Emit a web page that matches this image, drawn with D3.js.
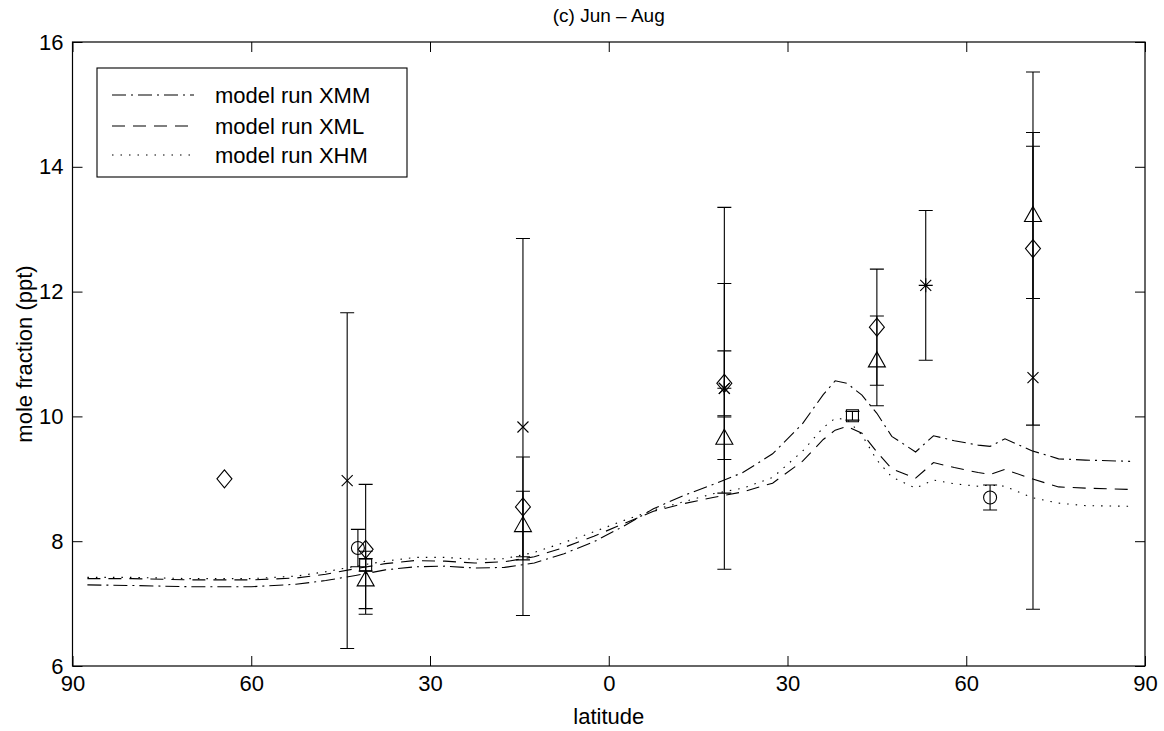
<!DOCTYPE html>
<html><head><meta charset="utf-8">
<script src="https://cdn.jsdelivr.net/npm/d3@7"></script>
<style>
body{margin:0;background:#fff}
text{font-family:"Liberation Sans",Arial,Helvetica,sans-serif;fill:#000}
</style>
</head><body>
<svg id="chart" width="1164" height="731"></svg>
<script>
// ---- data ----
const titleText = "(c) Jun \u2013 Aug";
const xTicks = [-90, -60, -30, 0, 30, 60, 90];
const xTickLabels = ["90", "60", "30", "0", "30", "60", "90"];
const yTicks = [6, 8, 10, 12, 14, 16];

const modelLat = [-87.5, -80, -70, -60, -52.5, -47.5, -42.5, -37.5, -32.5, -27.5, -22.5, -17.5, -12.5, -7.5, -2.5, 2.5, 7.5, 12.5, 17.5, 22.5, 27.5, 32.5, 36, 38, 40, 42.5, 45, 47.5, 51.5, 54.5, 58, 62, 64, 66.5, 71, 75.5, 80, 87.5];
const runXMM = [7.30, 7.29, 7.27, 7.27, 7.31, 7.37, 7.45, 7.54, 7.59, 7.60, 7.57, 7.58, 7.65, 7.80, 7.99, 8.24, 8.52, 8.73, 8.91, 9.10, 9.40, 9.88, 10.35, 10.57, 10.53, 10.34, 10.05, 9.68, 9.43, 9.69, 9.61, 9.54, 9.52, 9.64, 9.45, 9.32, 9.30, 9.28];
const runXML = [7.40, 7.40, 7.38, 7.38, 7.41, 7.47, 7.56, 7.64, 7.69, 7.68, 7.65, 7.67, 7.75, 7.90, 8.08, 8.28, 8.48, 8.60, 8.70, 8.79, 8.93, 9.28, 9.63, 9.78, 9.84, 9.73, 9.43, 9.16, 9.01, 9.26, 9.18, 9.10, 9.07, 9.15, 9.00, 8.87, 8.85, 8.83];
const runXHM = [7.42, 7.42, 7.40, 7.40, 7.44, 7.51, 7.60, 7.68, 7.74, 7.74, 7.71, 7.72, 7.82, 7.98, 8.15, 8.33, 8.50, 8.63, 8.76, 8.85, 9.02, 9.44, 9.82, 9.97, 9.95, 9.70, 9.30, 9.03, 8.85, 8.98, 8.92, 8.88, 8.90, 8.88, 8.70, 8.61, 8.57, 8.56];
const runNames = ["model run XMM", "model run XML", "model run XHM"];

// observations (latitude, mean, half error bar)
const diamondLat = [-64.5, -40.8, -14.4, 19.4, 45.0, 71.2];
const diamondVal = [9.0, 7.87, 8.55, 10.53, 11.43, 12.69];
const diamondErr = [0, 1.04, 0.80, 0.52, 0.93, 2.83];

const triangleLat = [-40.8, -14.4, 19.4, 45.0, 71.2];
const triangleVal = [7.38, 8.25, 9.65, 10.89, 13.22];
const triangleErr = [0.46, 0.55, 0.34, 0.72, 1.33];

const crossLat = [-43.9, -14.4, 19.4, 71.2];
const crossVal = [8.97, 9.83, 10.45, 10.62];
const crossErr = [2.69, 3.02, 2.90, 3.71];

const starLat = [19.4, 53.2];
const starVal = [10.45, 12.10];
const starErr = [1.68, 1.20];

const circleLat = [-42.1, 64.0];
const circleVal = [7.89, 8.70];
const circleErr = [0.30, 0.20];

const squareLat = [-40.8, 40.9];
const squareVal = [7.62, 10.01];
const squareErr = [0.10, 0.07];

// ---- drawing ----
const svg = d3.select("#chart");
const padL = 72.5, padR = 1145, padT = 42, padB = 666;
const x = d3.scaleLinear().domain([-90, 90]).range([padL, padR]);
const y = d3.scaleLinear().domain([6, 16]).range([padB, padT]);
const FS = 22;

// axes
const gx = svg.append("g").attr("transform", `translate(0,${padB})`)
  .call(d3.axisBottom(x).tickValues(xTicks).tickFormat((d,i)=>xTickLabels[i]).tickSizeInner(-10).tickSizeOuter(0).tickPadding(9));
const gxt = svg.append("g").attr("transform", `translate(0,${padT})`)
  .call(d3.axisTop(x).tickValues(xTicks).tickFormat("").tickSizeInner(-10).tickSizeOuter(0));
const gy = svg.append("g").attr("transform", `translate(${padL},0)`)
  .call(d3.axisLeft(y).tickValues(yTicks).tickSizeInner(-10).tickSizeOuter(0).tickPadding(9));
const gyr = svg.append("g").attr("transform", `translate(${padR},0)`)
  .call(d3.axisRight(y).tickValues(yTicks).tickFormat("").tickSizeInner(-10).tickSizeOuter(0));
[gx, gxt, gy, gyr].forEach(g => {
  g.select(".domain").remove();
  g.selectAll("line").attr("stroke", "#000").attr("stroke-width", 1);
  g.selectAll("text").attr("font-size", FS).attr("font-family", '"Liberation Sans",Arial,sans-serif').attr("fill", "#000");
});
svg.append("rect").attr("x", padL).attr("y", padT).attr("width", padR-padL).attr("height", padB-padT)
  .attr("fill", "none").attr("stroke", "#000").attr("stroke-width", 1.2);

// labels
svg.append("text").attr("x", (padL+padR)/2).attr("y", 22).attr("text-anchor", "middle").attr("font-size", 19).text(titleText);
svg.append("text").attr("x", (padL+padR)/2).attr("y", 724).attr("text-anchor", "middle").attr("font-size", FS).text("latitude");
svg.append("text").attr("transform", `translate(32,${(padT+padB)/2}) rotate(-90)`).attr("text-anchor", "middle").attr("font-size", FS).text("mole fraction (ppt)");

// model lines
const dashes = ["14,5,2,5", "13,8", "1.5,7"];
const runs = [runXMM, runXML, runXHM];
const line = d3.line().x(d => x(d[0])).y(d => y(d[1])).curve(d3.curveLinear);
const plot = svg.append("g");
runs.forEach((r, i) => {
  plot.append("path").datum(modelLat.map((lat, j) => [lat, r[j]]))
    .attr("d", line).attr("fill", "none").attr("stroke", "#000").attr("stroke-width", 1.1)
    .attr("stroke-dasharray", dashes[i]);
});

// error bars + markers
function drawSeries(lats, vals, errs, shape) {
  const g = plot.append("g");
  lats.forEach((lat, i) => {
    const cx = x(lat), cy = y(vals[i]);
    if (errs[i] > 0) {
      const y1 = y(vals[i] + errs[i]), y2 = y(vals[i] - errs[i]);
      const cw = 7;
      g.append("path").attr("d", `M${cx},${y1}V${y2}M${cx-cw},${y1}H${cx+cw}M${cx-cw},${y2}H${cx+cw}`)
        .attr("stroke", "#000").attr("stroke-width", 1.1).attr("fill", "none");
    }
    let d;
    if (shape === "diamond") d = `M${cx},${cy-9}L${cx+7.5},${cy}L${cx},${cy+9}L${cx-7.5},${cy}Z`;
    else if (shape === "triangle") d = `M${cx},${cy-9}L${cx+8.5},${cy+6}L${cx-8.5},${cy+6}Z`;
    else if (shape === "square") d = `M${cx-6},${cy-6}H${cx+6}V${cy+6}H${cx-6}Z`;
    else if (shape === "cross") d = `M${cx-5.5},${cy-5.5}L${cx+5.5},${cy+5.5}M${cx-5.5},${cy+5.5}L${cx+5.5},${cy-5.5}`;
    else if (shape === "star") d = `M${cx-5.5},${cy-5.5}L${cx+5.5},${cy+5.5}M${cx-5.5},${cy+5.5}L${cx+5.5},${cy-5.5}M${cx-7},${cy}H${cx+7}M${cx},${cy-7}V${cy+7}`;
    else if (shape === "circle") d = `M${cx+6.5},${cy}A6.5,6.5 0 1,1 ${cx-6.5},${cy}A6.5,6.5 0 1,1 ${cx+6.5},${cy}Z`;
    g.append("path").attr("d", d).attr("fill", "none").attr("stroke", "#000").attr("stroke-width", 1.1);
  });
}
drawSeries(crossLat, crossVal, crossErr, "cross");
drawSeries(diamondLat, diamondVal, diamondErr, "diamond");
drawSeries(triangleLat, triangleVal, triangleErr, "triangle");
drawSeries(starLat, starVal, starErr, "star");
drawSeries(circleLat, circleVal, circleErr, "circle");
drawSeries(squareLat, squareVal, squareErr, "square");

// legend
const lg = svg.append("g");
lg.append("rect").attr("x", 97).attr("y", 68).attr("width", 310).attr("height", 109)
  .attr("fill", "#fff").attr("stroke", "#000").attr("stroke-width", 1.1);
const legY = [95, 126, 155];
runNames.forEach((name, i) => {
  lg.append("line").attr("x1", 112).attr("x2", 194).attr("y1", legY[i]).attr("y2", legY[i])
    .attr("stroke", "#000").attr("stroke-width", 1.1).attr("stroke-dasharray", dashes[i]);
  lg.append("text").attr("x", 215).attr("y", legY[i] + 7.5).attr("font-size", FS).text(name);
});
</script>
</body></html>
